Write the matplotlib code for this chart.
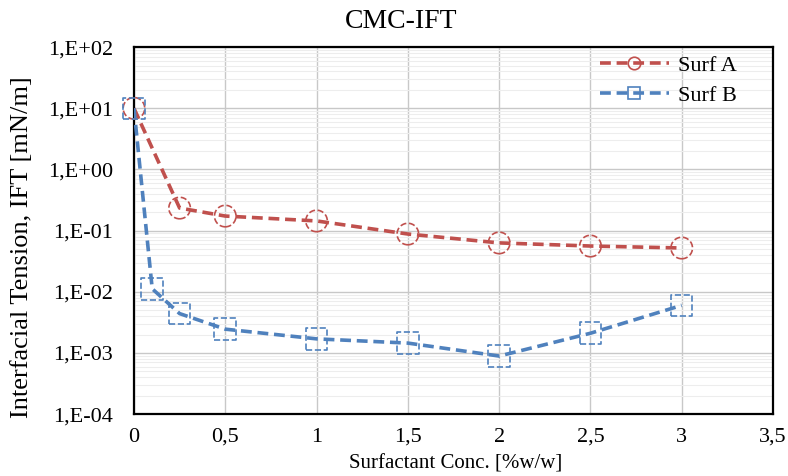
import numpy as np
import matplotlib
matplotlib.use("Agg")
import matplotlib.pyplot as plt
from matplotlib.lines import Line2D
from matplotlib.ticker import FixedLocator, FuncFormatter, LogLocator
from matplotlib.legend_handler import HandlerTuple

plt.rcParams['font.family'] = ['Liberation Serif', 'DejaVu Serif']

# Data
conc_a = [0, 0.25, 0.5, 1, 1.5, 2, 2.5, 3]
ift_a = [10, 0.234, 0.173, 0.144, 0.088, 0.063, 0.056, 0.052]

conc_b = [0, 0.1, 0.25, 0.5, 1, 1.5, 2, 2.5, 3]
ift_b = [10, 0.0112, 0.0044, 0.00245, 0.0017, 0.00145, 0.00089, 0.0021, 0.0060]

x_ticks = [0, 0.5, 1, 1.5, 2, 2.5, 3, 3.5]
y_ticks = [1e-4, 1e-3, 1e-2, 1e-1, 1e0, 1e1, 1e2]
RED = '#C0504D'
BLUE = '#4F81BD'
DASH = (0, (3, 1.6))

fig = plt.figure(figsize=(7.88, 4.76), dpi=100)
ax = fig.add_axes([0.170, 0.130, 0.811, 0.771])

ax.plot(conc_a, ift_a, color=RED, lw=2.6, ls=DASH, zorder=3)
ax.plot(conc_b, ift_b, color=BLUE, lw=2.6, ls=DASH, zorder=3)
ax.scatter(conc_a, ift_a, s=240, marker='o', facecolors='none',
           edgecolors=RED, linewidths=1.2, linestyles='--',
           zorder=4, clip_on=False)
ax.scatter(conc_b, ift_b, s=240, marker='s', facecolors='none',
           edgecolors=BLUE, linewidths=1.2, linestyles='--',
           zorder=4, clip_on=False)

ax.set_yscale('log')
ax.set_ylim(1e-4, 1e2)
ax.set_xlim(0, 3.5)
ax.xaxis.set_major_locator(FixedLocator(x_ticks))
ax.xaxis.set_major_formatter(FuncFormatter(
    lambda v, p: ('%g' % v).replace('.', ',')))
ax.yaxis.set_major_locator(FixedLocator(y_ticks))
ax.yaxis.set_minor_locator(LogLocator(base=10, subs=np.arange(2, 10),
                                      numticks=20))
ax.yaxis.set_major_formatter(FuncFormatter(
    lambda v, p: '1,E%+03d' % int(round(np.log10(v)))))
ax.tick_params(axis='y', which='minor', labelleft=False)

ax.grid(True, which='major', axis='both', color='#c8c8c8', lw=1.0)
ax.grid(True, which='minor', axis='y', color='#ededed', lw=0.8)
ax.set_axisbelow(True)
ax.tick_params(which='both', length=0, labelsize=16, colors='black')
ax.tick_params(axis='x', pad=10)
ax.tick_params(axis='y', pad=15)
for sp in ax.spines.values():
    sp.set_color('black')
    sp.set_linewidth(1.6)

fig.text(401 / 788, 1 - 22 / 476, 'CMC-IFT', fontsize=20,
         ha='center', va='center')
fig.text(456 / 788, 2 / 476, 'Surfactant Conc. [%w/w]', fontsize=15,
         ha='center', va='bottom')
fig.text(22 / 788, 1 - 247 / 476, 'Interfacial Tension, IFT [mN/m]',
         fontsize=19, rotation=90, ha='center', va='center')

# legend: dashed line with a small open marker on top
leg_a = (Line2D([], [], color=RED, lw=2.6, ls=DASH),
         Line2D([], [], color=RED, marker='o', ms=9, mfc='none',
                mec=RED, mew=1.2, ls='none'))
leg_b = (Line2D([], [], color=BLUE, lw=2.6, ls=DASH),
         Line2D([], [], color=BLUE, marker='s', ms=9, mfc='none',
                mec=BLUE, mew=1.2, ls='none'))
ax.legend([leg_a, leg_b], ['Surf A', 'Surf B'],
          handler_map={tuple: HandlerTuple(ndivide=1, pad=0)},
          loc='upper left', bbox_to_anchor=(600 / 788, 1 - 55 / 476),
          bbox_transform=fig.transFigure, frameon=False, fontsize=16,
          handlelength=3.1, borderaxespad=0, borderpad=0,
          labelspacing=0.45, handletextpad=0.4)

fig.savefig('out.png', dpi=100)
